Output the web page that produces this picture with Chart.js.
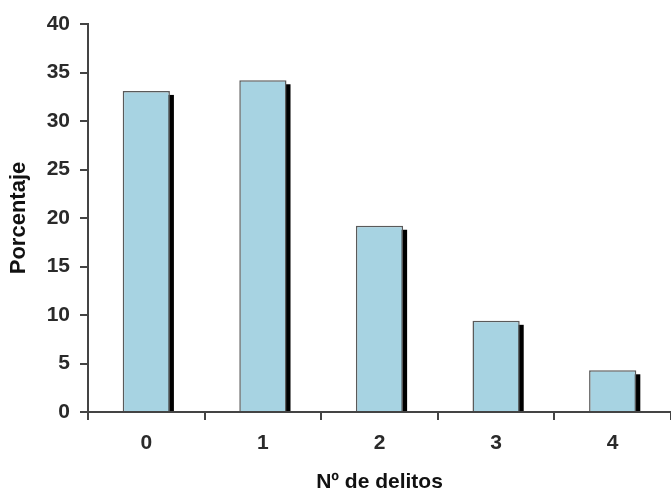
<!DOCTYPE html>
<html>
<head>
<meta charset="utf-8">
<script src="https://cdn.jsdelivr.net/npm/chart.js@4/dist/chart.umd.min.js"></script>
<style>
html,body{margin:0;padding:0;background:#fff;overflow:hidden;}
canvas{display:block;}
</style>
</head>
<body>
<canvas id="c" width="671" height="495"></canvas>
<script>
const categories = ["0", "1", "2", "3", "4"];
const porcentaje = [33.1, 34.2, 19.2, 9.4, 4.3];
const yTicks = [0, 5, 10, 15, 20, 25, 30, 35, 40];
const xTitle = "Nº de delitos";
const yTitle = "Porcentaje";

const shadowPlugin = {
  id: 'barShadow',
  beforeDatasetsDraw(chart) {
    const ctx = chart.ctx;
    const meta = chart.getDatasetMeta(0);
    ctx.save();
    ctx.fillStyle = '#000';
    meta.data.forEach(el => {
      const p = el.getProps(['x', 'y', 'base', 'width'], true);
      ctx.fillRect(p.x - p.width / 2 + 4, p.y + 4, p.width, p.base - p.y - 4);
    });
    ctx.restore();
  }
};

const tickFont = { family: "'Liberation Sans', Arial, sans-serif", size: 21, weight: 'bold' };
const xTitleFont = { family: "'Liberation Sans', Arial, sans-serif", size: 21, weight: 'bold' };
const yTitleFont = { family: "'Liberation Sans', Arial, sans-serif", size: 22, weight: 'bold' };

new Chart(document.getElementById('c'), {
  type: 'bar',
  data: {
    labels: categories,
    datasets: [{
      data: porcentaje,
      backgroundColor: '#a7d3e2',
      borderColor: '#5a5a5a',
      borderWidth: 1.5,
      barPercentage: 0.405,
      categoryPercentage: 1.0
    }]
  },
  options: {
    responsive: false,
    animation: false,
    layout: { padding: { top: 24, right: 0, bottom: 0, left: 0 } },
    plugins: { legend: { display: false }, tooltip: { enabled: false } },
    scales: {
      x: {
        offset: true,
        grid: { offset: true, drawOnChartArea: false, drawTicks: true, tickLength: 8, color: '#444', lineWidth: 2 },
        border: { display: true, color: '#444', width: 2 },
        ticks: { font: tickFont, color: '#2a2a2a', padding: 11, maxRotation: 0 },
        title: { display: true, text: xTitle, font: xTitleFont, color: '#111', padding: { top: 0, bottom: 0 } },
        afterFit(scale) { scale.height = 83; }
      },
      y: {
        min: 0, max: 40,
        afterBuildTicks(scale) { scale.ticks = yTicks.map(v => ({ value: v })); },
        grid: { drawOnChartArea: false, drawTicks: true, tickLength: 8, color: '#444', lineWidth: 2 },
        border: { display: true, color: '#444', width: 2 },
        ticks: { font: tickFont, color: '#2a2a2a', padding: 10 },
        title: { display: true, text: yTitle, font: yTitleFont, color: '#111', padding: { top: 6, bottom: 0 } },
        afterFit(scale) { scale.width = 88; }
      }
    }
  },
  plugins: [shadowPlugin]
});
</script>
</body>
</html>
